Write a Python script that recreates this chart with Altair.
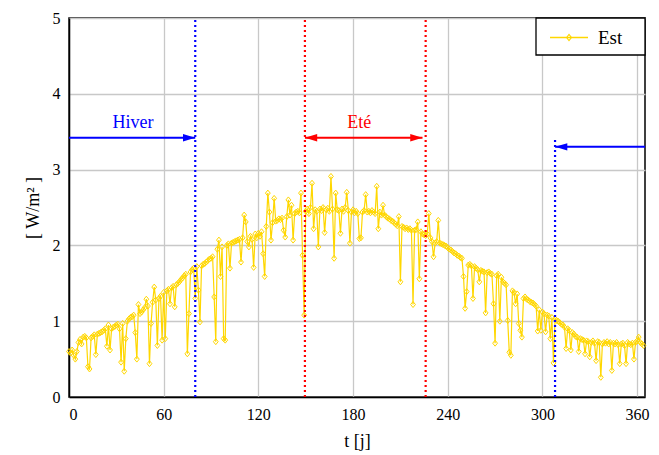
import altair as alt
import pandas as pd

# ---------------- data ----------------
days = list(range(365))
est = [
    0.60, 0.58, 0.62, 0.55, 0.50, 0.60, 0.72, 0.76, 0.70, 0.79,
    0.80, 0.78, 0.40, 0.37, 0.78, 0.80, 0.82, 0.56, 0.83, 0.84,
    0.85, 0.86, 0.88, 0.90, 0.67, 0.95, 0.62, 0.90, 0.92, 0.93,
    0.95, 0.96, 0.90, 0.46, 0.97, 0.34, 0.77, 1.00, 1.03, 1.05,
    1.06, 1.08, 0.85, 0.50, 1.22, 1.10, 1.12, 1.15, 1.18, 1.29,
    1.20, 0.44, 0.97, 1.25, 1.45, 1.28, 0.68, 1.30, 1.33, 0.75,
    1.38, 0.77, 1.40, 1.42, 1.23, 1.44, 1.46, 1.19, 1.48, 1.50,
    1.52, 1.55, 1.57, 1.60, 1.62, 0.57, 1.10, 1.65, 1.68, 1.70,
    1.30, 1.72, 1.41, 0.99, 1.73, 1.75, 1.76, 1.78, 1.80, 1.82,
    1.83, 1.85, 1.32, 0.73, 1.95, 2.07, 1.59, 1.98, 0.77, 0.75,
    2.00, 2.02, 1.70, 2.03, 2.04, 2.05, 2.06, 2.07, 2.08, 1.78,
    2.10, 2.40, 2.31, 2.05, 1.98, 2.12, 2.08, 1.71, 2.15, 2.10,
    2.16, 2.12, 2.18, 1.89, 1.59, 2.25, 2.69, 2.44, 2.07, 2.30,
    2.62, 2.32, 2.33, 2.35, 2.34, 2.36, 2.20, 2.11, 2.38, 2.60,
    2.40, 2.53, 2.07, 2.42, 2.44, 2.45, 2.43, 2.69, 1.87, 1.08,
    2.45, 2.48, 2.42, 2.50, 2.82, 2.22, 2.47, 2.45, 1.98, 2.48,
    2.46, 2.50, 2.17, 2.47, 2.49, 2.45, 2.91, 2.48, 1.83, 2.69,
    2.47, 2.46, 2.16, 2.48, 2.45, 2.50, 2.70, 2.46, 2.03, 2.44,
    2.47, 2.43, 2.45, 2.42, 2.09, 2.10, 2.44, 2.46, 2.67, 2.44,
    2.45, 2.43, 2.46, 2.44, 2.42, 2.78, 2.22, 2.44, 2.40, 2.53,
    2.40, 2.38, 2.36, 2.35, 2.33, 2.32, 2.30, 2.28, 2.26, 2.38,
    1.52, 2.25, 2.24, 2.22, 2.23, 2.21, 2.22, 2.20, 1.22, 2.20,
    2.21, 2.31, 1.56, 2.18, 2.15, 2.14, 2.13, 2.15, 2.42, 2.10,
    2.05, 1.85, 2.03, 2.05, 2.33, 2.03, 2.02, 2.01, 2.00, 1.99,
    1.97, 1.95, 1.94, 1.92, 1.90, 1.89, 1.87, 1.86, 1.84, 1.83,
    1.59, 1.17, 1.39, 1.74, 1.75, 1.73, 1.30, 1.72, 1.70, 1.68,
    1.52, 1.67, 1.66, 1.65, 1.11, 1.64, 1.65, 1.63, 1.62, 1.23,
    0.71, 1.60, 1.62, 1.00, 1.58, 1.52, 1.50, 1.48, 1.01, 0.59,
    0.55, 1.40, 1.38, 1.23, 1.36, 0.97, 0.88, 0.79, 1.30, 1.32,
    1.29, 1.28, 1.26, 1.25, 1.24, 1.22, 1.20, 0.87, 1.15, 0.88,
    1.12, 1.10, 0.86, 1.08, 1.07, 0.77, 1.05, 0.45, 1.03, 1.01,
    1.00, 0.98, 0.96, 0.95, 0.92, 0.64, 0.90, 0.88, 0.62, 0.85,
    0.83, 0.80, 0.79, 0.60, 0.77, 0.76, 0.75, 0.57, 0.74, 0.73,
    0.53, 0.72, 0.74, 0.71, 0.48, 0.73, 0.72, 0.26, 0.70, 0.72,
    0.71, 0.73, 0.70, 0.72, 0.35, 0.71, 0.70, 0.72, 0.69, 0.44,
    0.70, 0.71, 0.68, 0.44, 0.72, 0.70, 0.69, 0.71, 0.50, 0.72,
    0.74, 0.79, 0.72, 0.70, 0.68,
]

season_x = [80, 149.5, 226, 308]
season_top = [5, 5, 5, 3.42]
season_color = ["#0000FF", "#FF0000", "#FF0000", "#0000FF"]

arrow_x1 = [0, 149.5, 365]
arrow_x2 = [80, 224, 308]
arrow_y = [3.42, 3.42, 3.30]
arrow_color = ["#0000FF", "#FF0000", "#0000FF"]

head_x = [80, 224, 149.5, 308]
head_y = [3.42, 3.42, 3.42, 3.30]
head_dir = ["right", "right", "left", "left"]
head_color = ["#0000FF", "#FF0000", "#FF0000", "#0000FF"]

label_text = ["Hiver", "Eté"]
label_x = [40.5, 184]
label_y = [3.62, 3.62]
label_color = ["#0000FF", "#FF0000"]

legend_labels = ["Est"]

x_ticks = [0, 60, 120, 180, 240, 300, 360]
y_ticks = [0, 1, 2, 3, 4, 5]

# ---------------- styling ----------------
GOLD = "#FFD700"
FONT = "Liberation Serif"
W, H = 576, 379
DIAMOND = "M-0.8,0L0,-1L0.8,0L0,1Z"
HEAD_R = "M0,0L-1,-0.3L-1,0.3Z"
HEAD_L = "M0,0L1,-0.3L1,0.3Z"

xs = alt.Scale(domain=[0, 365], nice=False, zero=False)
ys = alt.Scale(domain=[0, 5], nice=False)

df = pd.DataFrame({"t": days, "v": est})
df_season = pd.DataFrame({"x": season_x, "y0": [0] * 4, "top": season_top, "c": season_color})
df_arrow = pd.DataFrame({"x1": arrow_x1, "x2": arrow_x2, "y": arrow_y, "c": arrow_color})
df_head = pd.DataFrame({"x": head_x, "y": head_y, "d": head_dir, "c": head_color})
df_lab = pd.DataFrame({"txt": label_text, "x": label_x, "y": label_y, "c": label_color})
df_leg = pd.DataFrame({"label": legend_labels})

axis_style = dict(
    labelFontSize=16, titleFontSize=18,
    labelColor="black", titleColor="black", titleFontWeight="normal",
    gridColor="#c8c8c8", gridWidth=1.3, domainColor="black", domainWidth=1.5,
    tickSize=0, labelPadding=9, titlePadding=10, grid=True, format="d",
)

line = alt.Chart(df).mark_line(color=GOLD, strokeWidth=1.2).encode(
    x=alt.X("t:Q", scale=xs, axis=alt.Axis(values=x_ticks, title="t [j]", **axis_style)),
    y=alt.Y("v:Q", scale=ys, axis=alt.Axis(values=y_ticks, title="[ W/m² ]", **axis_style)),
)
pts = alt.Chart(df).mark_point(
    shape=DIAMOND, size=36, color=GOLD, filled=False, strokeWidth=1, opacity=1
).encode(
    x=alt.X("t:Q", scale=xs),
    y=alt.Y("v:Q", scale=ys),
)

vlines = alt.Chart(df_season).mark_rule(strokeDash=[2, 3], strokeWidth=2.2).encode(
    x=alt.X("x:Q", scale=xs),
    y=alt.Y("y0:Q", scale=ys),
    y2="top:Q",
    color=alt.Color("c:N", scale=None),
)

arrows = alt.Chart(df_arrow).mark_rule(strokeWidth=2).encode(
    x=alt.X("x1:Q", scale=xs),
    x2="x2:Q",
    y=alt.Y("y:Q", scale=ys),
    color=alt.Color("c:N", scale=None),
)

heads = alt.Chart(df_head).mark_point(filled=True, size=600, opacity=1, strokeWidth=0).encode(
    x=alt.X("x:Q", scale=xs),
    y=alt.Y("y:Q", scale=ys),
    shape=alt.Shape("d:N", scale=alt.Scale(domain=["right", "left"], range=[HEAD_R, HEAD_L]), legend=None),
    color=alt.Color("c:N", scale=None),
)

labels = alt.Chart(df_lab).mark_text(font=FONT, fontSize=18, baseline="middle", align="center").encode(
    x=alt.X("x:Q", scale=xs),
    y=alt.Y("y:Q", scale=ys),
    text="txt:N",
    color=alt.Color("c:N", scale=None),
)

# legend box drawn in the top-right corner of the plot
leg_box = alt.Chart(df_leg).mark_rect(fill="white", stroke="black", strokeWidth=1.3).encode(
    x=alt.value(W - 109), x2=alt.value(W), y=alt.value(0), y2=alt.value(37)
)
leg_line = alt.Chart(df_leg).mark_rule(color=GOLD, strokeWidth=1.5).encode(
    x=alt.value(W - 95), x2=alt.value(W - 57), y=alt.value(19.5)
)
leg_pt = alt.Chart(df_leg).mark_point(
    shape=DIAMOND, size=36, color=GOLD, filled=False, strokeWidth=1.2, opacity=1
).encode(x=alt.value(W - 76), y=alt.value(19.5))
leg_txt = alt.Chart(df_leg).mark_text(font=FONT, fontSize=19, align="left", baseline="middle").encode(
    x=alt.value(W - 47), y=alt.value(19.5), text="label:N"
)

chart = (
    alt.layer(line, pts, vlines, arrows, heads, labels, leg_box, leg_line, leg_pt, leg_txt)
    .properties(
        width=W,
        height=H,
        padding={"left": 61, "top": 10, "right": 6, "bottom": 55},
        autosize=alt.AutoSizeParams(type="none"),
    )
    .configure(font=FONT)
    .configure_axis(labelFont=FONT, titleFont=FONT)
    .configure_view(stroke="black", strokeWidth=1.5)
)

chart.save("out.html", embed_options={"renderer": "svg", "actions": False})
